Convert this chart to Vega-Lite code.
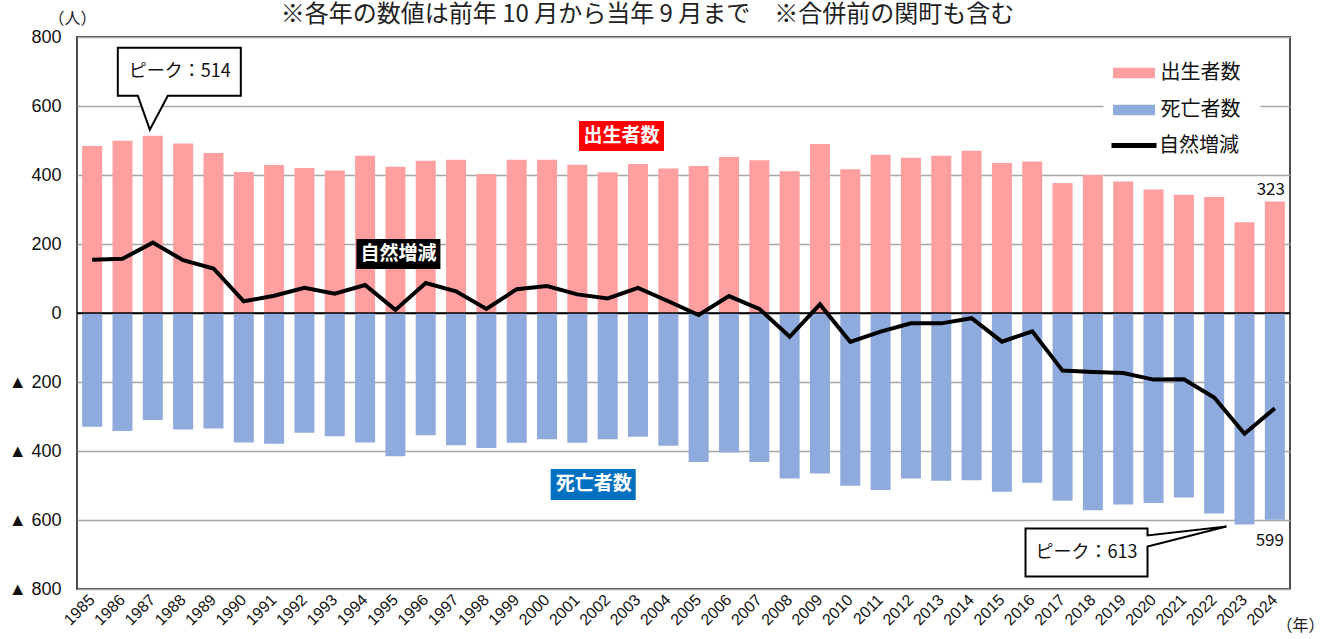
{
  "$schema": "https://vega.github.io/schema/vega-lite/v6.json",
  "width": 1213,
  "height": 552,
  "autosize": {"type": "none"},
  "padding": {"left": 77, "top": 37, "right": 40, "bottom": 50},
  "background": "white",
  "config": {
    "font": "Noto Sans CJK JP",
    "view": {"stroke": "#4d4d4d", "strokeWidth": 2},
    "axisY": {"ticks": false, "domain": false, "labelPadding": 16, "labelFontSize": 18, "labelFont": "Liberation Sans", "labelColor": "#111", "gridWidth": 1.5, "titleAngle": 0, "titleX": -5, "titleY": -19, "titleAlign": "center", "titleBaseline": "middle", "titleFontSize": 16, "titleFontWeight": "normal", "titleColor": "#222", "titleFont": "Noto Sans CJK JP"},
    "axisX": {"ticks": false, "domain": false, "grid": false, "labelAngle": -45, "labelAlign": "right", "labelBaseline": "middle", "labelFontSize": 16, "labelFont": "Liberation Sans", "labelColor": "#111", "labelPadding": 8, "labelOverlap": false, "titleX": 1223, "titleY": 36, "titleAlign": "center", "titleBaseline": "middle", "titleFontSize": 16, "titleFontWeight": "normal", "titleColor": "#222", "titleFont": "Noto Sans CJK JP"}
  },
  "title": {"text": "※各年の数値は前年 10 月から当年 9 月まで　※合併前の関町も含む", "fontSize": 24, "font": "Noto Sans CJK JP", "fontWeight": "normal", "color": "#222", "anchor": "middle", "dx": -36, "offset": -29, "baseline": "middle", "frame": "group"},
  "datasets": {
    "main": [
      {"year": 1985, "series": "出生者数", "value": 484}, {"year": 1985, "series": "死亡者数", "value": -330}, {"year": 1985, "series": "自然増減", "value": 154},
      {"year": 1986, "series": "出生者数", "value": 499}, {"year": 1986, "series": "死亡者数", "value": -342}, {"year": 1986, "series": "自然増減", "value": 157},
      {"year": 1987, "series": "出生者数", "value": 514}, {"year": 1987, "series": "死亡者数", "value": -310}, {"year": 1987, "series": "自然増減", "value": 204},
      {"year": 1988, "series": "出生者数", "value": 491}, {"year": 1988, "series": "死亡者数", "value": -338}, {"year": 1988, "series": "自然増減", "value": 153},
      {"year": 1989, "series": "出生者数", "value": 464}, {"year": 1989, "series": "死亡者数", "value": -335}, {"year": 1989, "series": "自然増減", "value": 129},
      {"year": 1990, "series": "出生者数", "value": 409}, {"year": 1990, "series": "死亡者数", "value": -375}, {"year": 1990, "series": "自然増減", "value": 34},
      {"year": 1991, "series": "出生者数", "value": 429}, {"year": 1991, "series": "死亡者数", "value": -379}, {"year": 1991, "series": "自然増減", "value": 50},
      {"year": 1992, "series": "出生者数", "value": 420}, {"year": 1992, "series": "死亡者数", "value": -347}, {"year": 1992, "series": "自然増減", "value": 73},
      {"year": 1993, "series": "出生者数", "value": 413}, {"year": 1993, "series": "死亡者数", "value": -357}, {"year": 1993, "series": "自然増減", "value": 56},
      {"year": 1994, "series": "出生者数", "value": 456}, {"year": 1994, "series": "死亡者数", "value": -375}, {"year": 1994, "series": "自然増減", "value": 81},
      {"year": 1995, "series": "出生者数", "value": 424}, {"year": 1995, "series": "死亡者数", "value": -415}, {"year": 1995, "series": "自然増減", "value": 9},
      {"year": 1996, "series": "出生者数", "value": 441}, {"year": 1996, "series": "死亡者数", "value": -354}, {"year": 1996, "series": "自然増減", "value": 87},
      {"year": 1997, "series": "出生者数", "value": 444}, {"year": 1997, "series": "死亡者数", "value": -383}, {"year": 1997, "series": "自然増減", "value": 63},
      {"year": 1998, "series": "出生者数", "value": 403}, {"year": 1998, "series": "死亡者数", "value": -391}, {"year": 1998, "series": "自然増減", "value": 12},
      {"year": 1999, "series": "出生者数", "value": 444}, {"year": 1999, "series": "死亡者数", "value": -376}, {"year": 1999, "series": "自然増減", "value": 69},
      {"year": 2000, "series": "出生者数", "value": 444}, {"year": 2000, "series": "死亡者数", "value": -366}, {"year": 2000, "series": "自然増減", "value": 78},
      {"year": 2001, "series": "出生者数", "value": 430}, {"year": 2001, "series": "死亡者数", "value": -376}, {"year": 2001, "series": "自然増減", "value": 54},
      {"year": 2002, "series": "出生者数", "value": 408}, {"year": 2002, "series": "死亡者数", "value": -366}, {"year": 2002, "series": "自然増減", "value": 42},
      {"year": 2003, "series": "出生者数", "value": 432}, {"year": 2003, "series": "死亡者数", "value": -359}, {"year": 2003, "series": "自然増減", "value": 73},
      {"year": 2004, "series": "出生者数", "value": 419}, {"year": 2004, "series": "死亡者数", "value": -385}, {"year": 2004, "series": "自然増減", "value": 34},
      {"year": 2005, "series": "出生者数", "value": 426}, {"year": 2005, "series": "死亡者数", "value": -432}, {"year": 2005, "series": "自然増減", "value": -6},
      {"year": 2006, "series": "出生者数", "value": 452}, {"year": 2006, "series": "死亡者数", "value": -404}, {"year": 2006, "series": "自然増減", "value": 49},
      {"year": 2007, "series": "出生者数", "value": 443}, {"year": 2007, "series": "死亡者数", "value": -432}, {"year": 2007, "series": "自然増減", "value": 12},
      {"year": 2008, "series": "出生者数", "value": 411}, {"year": 2008, "series": "死亡者数", "value": -480}, {"year": 2008, "series": "自然増減", "value": -69},
      {"year": 2009, "series": "出生者数", "value": 490}, {"year": 2009, "series": "死亡者数", "value": -465}, {"year": 2009, "series": "自然増減", "value": 25},
      {"year": 2010, "series": "出生者数", "value": 417}, {"year": 2010, "series": "死亡者数", "value": -501}, {"year": 2010, "series": "自然増減", "value": -84},
      {"year": 2011, "series": "出生者数", "value": 459}, {"year": 2011, "series": "死亡者数", "value": -513}, {"year": 2011, "series": "自然増減", "value": -54},
      {"year": 2012, "series": "出生者数", "value": 450}, {"year": 2012, "series": "死亡者数", "value": -480}, {"year": 2012, "series": "自然増減", "value": -30},
      {"year": 2013, "series": "出生者数", "value": 456}, {"year": 2013, "series": "死亡者数", "value": -486}, {"year": 2013, "series": "自然増減", "value": -30},
      {"year": 2014, "series": "出生者数", "value": 470}, {"year": 2014, "series": "死亡者数", "value": -485}, {"year": 2014, "series": "自然増減", "value": -15},
      {"year": 2015, "series": "出生者数", "value": 435}, {"year": 2015, "series": "死亡者数", "value": -518}, {"year": 2015, "series": "自然増減", "value": -83},
      {"year": 2016, "series": "出生者数", "value": 439}, {"year": 2016, "series": "死亡者数", "value": -492}, {"year": 2016, "series": "自然増減", "value": -53},
      {"year": 2017, "series": "出生者数", "value": 377}, {"year": 2017, "series": "死亡者数", "value": -544}, {"year": 2017, "series": "自然増減", "value": -167},
      {"year": 2018, "series": "出生者数", "value": 400}, {"year": 2018, "series": "死亡者数", "value": -572}, {"year": 2018, "series": "自然増減", "value": -171},
      {"year": 2019, "series": "出生者数", "value": 381}, {"year": 2019, "series": "死亡者数", "value": -555}, {"year": 2019, "series": "自然増減", "value": -174},
      {"year": 2020, "series": "出生者数", "value": 358}, {"year": 2020, "series": "死亡者数", "value": -551}, {"year": 2020, "series": "自然増減", "value": -193},
      {"year": 2021, "series": "出生者数", "value": 343}, {"year": 2021, "series": "死亡者数", "value": -535}, {"year": 2021, "series": "自然増減", "value": -192},
      {"year": 2022, "series": "出生者数", "value": 336}, {"year": 2022, "series": "死亡者数", "value": -581}, {"year": 2022, "series": "自然増減", "value": -245},
      {"year": 2023, "series": "出生者数", "value": 263}, {"year": 2023, "series": "死亡者数", "value": -613}, {"year": 2023, "series": "自然増減", "value": -350},
      {"year": 2024, "series": "出生者数", "value": 323}, {"year": 2024, "series": "死亡者数", "value": -599}, {"year": 2024, "series": "自然増減", "value": -276}
    ]
  },
  "layer": [
    {
      "data": {"name": "main"},
      "transform": [{"filter": "datum.series !== '自然増減'"}],
      "mark": {"type": "bar"},
      "encoding": {
        "x": {"field": "year", "type": "ordinal", "scale": {"paddingInner": 0.34, "paddingOuter": 0.17}, "axis": {"title": "（年）"}},
        "y": {"field": "value", "type": "quantitative", "stack": null, "scale": {"domain": [-800, 800], "nice": false, "zero": false},
          "axis": {"title": "（人）", "values": [-800, -600, -400, -200, 0, 200, 400, 600, 800],
            "labelExpr": "datum.value < 0 ? '▲ ' + (-datum.value) : '' + datum.value",
            "gridColor": {"condition": {"test": "datum.value === 0", "value": "#000000"}, "value": "#a6a6a6"}}},
        "fill": {"field": "series", "type": "nominal",
          "scale": {"domain": ["出生者数", "死亡者数"], "range": ["#FF9F9F", "#8FAADC"]},
          "legend": {"title": null, "orient": "none", "legendX": 1026.5, "legendY": 5.5, "padding": 20, "fillColor": "white",
            "symbolType": "M-2,-0.5H2V0.5H-2Z", "symbolSize": 441, "symbolStrokeWidth": 0, "symbolOpacity": 1,
            "labelFontSize": 20, "labelFont": "Noto Sans CJK JP", "labelColor": "#111", "labelOffset": 16, "rowPadding": 16}}
      }
    },
    {
      "data": {"values": [{"value": 0}]},
      "mark": {"type": "rule", "color": "#000000", "strokeWidth": 1.5},
      "encoding": {
        "y": {"field": "value", "type": "quantitative", "stack": null, "scale": {"domain": [-800, 800], "nice": false, "zero": false},
          "axis": {"title": "（人）", "values": [-800, -600, -400, -200, 0, 200, 400, 600, 800],
            "labelExpr": "datum.value < 0 ? '▲ ' + (-datum.value) : '' + datum.value",
            "gridColor": {"condition": {"test": "datum.value === 0", "value": "#000000"}, "value": "#a6a6a6"}}}
      }
    },
    {
      "data": {"name": "main"},
      "encoding": {
        "x": {"field": "year", "type": "ordinal", "scale": {"paddingInner": 0.34, "paddingOuter": 0.17}, "axis": {"title": "（年）"}},
        "y": {"field": "value", "type": "quantitative", "stack": null, "scale": {"domain": [-800, 800], "nice": false, "zero": false},
          "axis": {"title": "（人）", "values": [-800, -600, -400, -200, 0, 200, 400, 600, 800],
            "labelExpr": "datum.value < 0 ? '▲ ' + (-datum.value) : '' + datum.value",
            "gridColor": {"condition": {"test": "datum.value === 0", "value": "#000000"}, "value": "#a6a6a6"}}}
      },
      "layer": [
        {
          "transform": [{"filter": "datum.series === '自然増減'"}],
          "mark": {"type": "line", "strokeWidth": 4, "strokeJoin": "miter"},
          "encoding": {"stroke": {"field": "series", "type": "nominal",
            "scale": {"domain": ["自然増減"], "range": ["#000000"]},
            "legend": {"title": null, "orient": "none", "legendX": 1022, "legendY": 73.5, "padding": 10,
              "symbolType": "stroke", "symbolSize": 2025, "symbolStrokeWidth": 5, "symbolOpacity": 1,
              "labelFontSize": 20, "labelFont": "Noto Sans CJK JP", "labelColor": "#111", "labelOffset": 0}}}
        },
        {
          "data": {"values": [{"year": 1987, "value": 514}]},
          "mark": {"type": "point", "shape": "M-3,-6L15,-40H88V-88H-35V-40H-15Z", "size": 4, "filled": true, "fill": "white", "stroke": "#000000", "strokeWidth": 2, "opacity": 1, "strokeJoin": "miter"}
        },
        {
          "data": {"values": [{"year": 1987, "value": 514, "label": "ピーク：514"}]},
          "mark": {"type": "text", "dx": 27, "dy": -64, "fontSize": 18, "color": "#111", "baseline": "middle", "align": "center"},
          "encoding": {"text": {"field": "label"}}
        },
        {
          "data": {"values": [{"year": 2023, "value": -613}]},
          "mark": {"type": "point", "shape": "M-18,2L-97,22V52H-219V4H-97V11Z", "size": 4, "filled": true, "fill": "white", "stroke": "#000000", "strokeWidth": 2, "opacity": 1, "strokeJoin": "miter"}
        },
        {
          "data": {"values": [{"year": 2023, "value": -613, "label": "ピーク：613"}]},
          "mark": {"type": "text", "dx": -158, "dy": 29, "fontSize": 18, "color": "#111", "baseline": "middle", "align": "center"},
          "encoding": {"text": {"field": "label"}}
        },
        {
          "data": {"values": [{"year": 2024, "value": 323, "label": "323"}]},
          "mark": {"type": "text", "dx": -4, "dy": -12, "fontSize": 17, "color": "#111", "baseline": "middle", "align": "center"},
          "encoding": {"text": {"field": "label"}}
        },
        {
          "data": {"values": [{"year": 2024, "value": -599, "label": "599"}]},
          "mark": {"type": "text", "dx": -5, "dy": 21, "fontSize": 17, "color": "#111", "baseline": "middle", "align": "center"},
          "encoding": {"text": {"field": "label"}}
        },
        {
          "data": {"values": [{"year": 2003, "value": 513}]},
          "mark": {"type": "point", "shape": "M-59,-15H26V15H-59Z", "size": 4, "filled": true, "fill": "#FF0000", "strokeWidth": 0, "opacity": 1}
        },
        {
          "data": {"values": [{"year": 2003, "value": 513, "label": "出生者数"}]},
          "mark": {"type": "text", "dx": -16.5, "dy": 0, "fontSize": 19, "fontWeight": "bold", "color": "white", "baseline": "middle", "align": "center"},
          "encoding": {"text": {"field": "label"}}
        },
        {
          "data": {"values": [{"year": 2002, "value": -497}]},
          "mark": {"type": "point", "shape": "M-57,-15.5H28V15.5H-57Z", "size": 4, "filled": true, "fill": "#0070C0", "strokeWidth": 0, "opacity": 1}
        },
        {
          "data": {"values": [{"year": 2002, "value": -497, "label": "死亡者数"}]},
          "mark": {"type": "text", "dx": -14, "dy": 0, "fontSize": 19, "fontWeight": "bold", "color": "white", "baseline": "middle", "align": "center"},
          "encoding": {"text": {"field": "label"}}
        },
        {
          "data": {"values": [{"year": 1995, "value": 171}]},
          "mark": {"type": "point", "shape": "M-39,-15H45V15H-39Z", "size": 4, "filled": true, "fill": "#000000", "strokeWidth": 0, "opacity": 1}
        },
        {
          "data": {"values": [{"year": 1995, "value": 171, "label": "自然増減"}]},
          "mark": {"type": "text", "dx": 3, "dy": 0, "fontSize": 19, "fontWeight": "bold", "color": "white", "baseline": "middle", "align": "center"},
          "encoding": {"text": {"field": "label"}}
        }
      ]
    }
  ]
}
